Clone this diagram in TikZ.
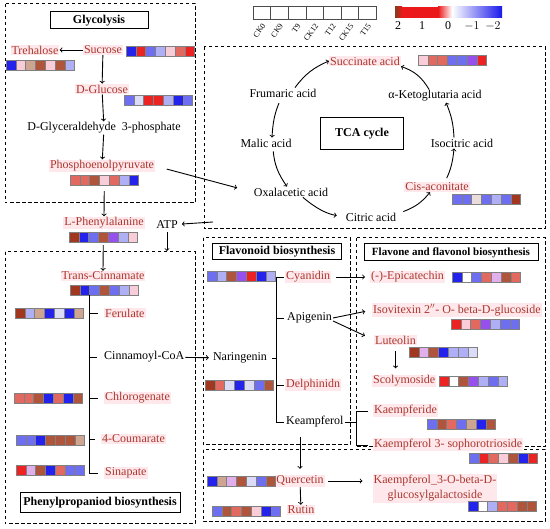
\documentclass[tikz,border=0pt]{standalone}
\usepackage{fontspec}
\setmainfont{Liberation Serif}
\usetikzlibrary{positioning}
\usetikzlibrary{calc}

\definecolor{hitred}{RGB}{170,55,45}
\definecolor{hitbg}{RGB}{255,232,236}
\definecolor{hB}{RGB}{35,35,235}
\definecolor{hb}{RGB}{110,110,240}
\definecolor{hl}{RGB}{175,175,245}
\definecolor{hw}{RGB}{220,220,248}
\definecolor{hp}{RGB}{248,205,215}
\definecolor{hq}{RGB}{235,220,220}
\definecolor{hr}{RGB}{225,105,95}
\definecolor{hR}{RGB}{235,35,35}
\definecolor{hn}{RGB}{175,85,60}
\definecolor{hN}{RGB}{160,55,30}
\definecolor{ht}{RGB}{205,165,145}
\definecolor{hv}{RGB}{150,80,235}
\definecolor{hm}{RGB}{225,175,235}
\definecolor{cbbrown}{RGB}{130,60,30}
\definecolor{cbred}{RGB}{235,25,25}
\definecolor{cbblue}{RGB}{25,25,235}

% one row of seven heat map cells, #1 name, #2 west point, #3 colours
\newcommand{\heatrow}[3]{%
  \foreach \c [count=\i from 0] in {#3}
    \node[cell, fill=\c] (#1\i) at ($(#2)+(\i*9.8+4.9,0)$) {};
}

\begin{document}
\begin{tikzpicture}[x=1pt, y=-1pt]
  \tikzstyle{met}=[inner sep=1pt, font=\fontsize{12}{14}\selectfont]
  \tikzstyle{hit}=[met, text=hitred, fill=hitbg]
  \tikzstyle{title}=[draw, line width=1pt, inner sep=1pt, font=\bfseries\fontsize{12}{14}\selectfont]
  \tikzstyle{region}=[line width=1pt, dash pattern=on 3.5pt off 2.5pt]
  \tikzstyle{connect}=[->, line width=0.9pt]
  \tikzstyle{tree}=[line width=0.9pt]
  \tikzstyle{cell}=[draw=gray, line width=0.4pt, minimum width=9.8pt, minimum height=10pt, inner sep=0pt]
  \tikzstyle{legcell}=[draw=black!70, minimum width=17.6pt, minimum height=13pt, inner sep=0pt]

  \useasboundingbox (0,0) rectangle (550,529);

  % pathway regions
  \draw[region] (5,4) rectangle (195,203);
  \draw[region] (204,47) rectangle (545,229);
  \draw[region] (5,252) rectangle (195,524);
  \draw[region] (203,238) rectangle (350,445);
  \draw[region] (356,238) rectangle (545,447);
  \draw[region] (203,450) rectangle (545,522);

  % legend
  \foreach \lab [count=\i from 0] in {CK0,CK9,T9,CK12,T12,CK15,T15} {
    \node[legcell] (leg\i) at (261.8+\i*17.6, 12.5) {};
    \node[font=\fontsize{8}{10}\selectfont, inner sep=0pt, rotate=55, anchor=east] at ([xshift=2pt, yshift=-5pt]leg\i.south) {\lab};
  }
  \shade[left color=cbbrown, right color=cbred] (395,7) rectangle (402,18);
  \fill[cbred] (402,7) rectangle (438,18);
  \shade[left color=cbred, right color=white] (438,7) rectangle (452,18);
  \shade[left color=white, right color=cbblue] (452,7) rectangle (502,18);
  \foreach \v/\x in {2/398, 1/422, 0/448, {$-1$}/472, {$-2$}/493}
    \node[met] at (\x, 26) {\v};

  % glycolysis
  \node[title, minimum width=98pt, minimum height=17pt] (glyco) at (99,20.5) {Glycolysis};
  \node[hit] (tre) at (35,50) {Trehalose};
  \node[hit] (suc) at (103,50) {Sucrose};
  \node[hit] (glu) at (102,89) {D-Glucose};
  \node[met] (gap) at (104,128) {D-Glyceraldehyde\ \ 3-phosphate};
  \node[hit] (pep) at (102,166) {Phosphoenolpyruvate};
  \heatrow{sucb}{126,51}{hB,hR,hb,hl,hp,hr,hR}
  \heatrow{treb}{6,65}{hB,hp,ht,hn,hp,hn,hl}
  \heatrow{glub}{124,100}{hb,hw,hR,hR,hl,hB,hb}
  \heatrow{pepb}{70,180}{hr,hr,hn,hp,hr,hl,hB}

  % phenylpropanoid
  \node[hit] (lphe) at (104,223) {L-Phenylalanine};
  \heatrow{lpheb}{69,237}{hN,hB,hb,hn,hv,hl,hp}
  \node[met] (atp) at (167,225) {ATP};
  \node[hit] (tcin) at (103,276) {Trans-Cinnamate};
  \heatrow{tcinb}{70,290}{hN,hB,hb,hn,hb,hl,hp}
  \node[hit, anchor=west] (feru) at (104,313) {Ferulate};
  \heatrow{ferub}{15,313}{hN,hl,ht,hB,hw,hB,ht}
  \node[met, anchor=west] (cinn) at (103,357) {Cinnamoyl-CoA};
  \node[hit, anchor=west] (chlo) at (104,398) {Chlorogenate};
  \heatrow{chlob}{14,398}{hr,hr,hn,hB,hr,hB,hn}
  \node[hit, anchor=west] (coum) at (101,439) {4-Coumarate};
  \heatrow{coumb}{16,440}{hb,hb,hB,hn,hn,hn,ht}
  \node[hit, anchor=west] (sina) at (104,473) {Sinapate};
  \heatrow{sinab}{16,470}{hR,hm,hn,hB,hr,hb,hb}
  \node[title, minimum width=160pt, minimum height=20pt] (phen) at (100,503) {Phenylpropaniod biosynthesis};

  % TCA cycle
  \node[hit] (succ) at (365,61) {Succinate acid};
  \heatrow{succb}{418,60}{hp,hr,hr,hb,hb,hv,hR}
  \node[met] (frum) at (283,93) {Frumaric acid};
  \node[met] (keto) at (435,96) {α-Ketoglutaria acid};
  \node[met] (malic) at (266,143) {Malic acid};
  \node[title, minimum width=83pt, minimum height=32pt] (tca) at (362,134) {TCA cycle};
  \node[met] (isoc) at (462,143) {Isocitric acid};
  \node[met] (oxal) at (291,192) {Oxalacetic acid};
  \node[hit] (cis) at (437,187) {Cis-aconitate};
  \heatrow{cisb}{452,199}{hb,hb,hq,hb,hl,hb,hN}
  \node[met] (citr) at (371,217) {Citric acid};

  % flavonoid
  \node[title, minimum width=129pt, minimum height=16pt] (flav) at (277,252) {Flavonoid biosynthesis};
  \heatrow{cyanb}{207,276}{hb,hl,hn,hv,hR,hB,hl}
  \node[hit, anchor=west] (cyan) at (285,277) {Cyanidin};
  \node[met, anchor=west] (api) at (286,318) {Apigenin};
  \node[met] (nar) at (240,358) {Naringenin};
  \heatrow{delpb}{205,385}{hN,hr,hw,hB,hw,hb,hn}
  \node[hit, anchor=west] (delp) at (285,385) {Delphinidn};
  \node[met, anchor=west] (keam) at (285,422) {Keampferol};

  % flavone and flavonol
  \node[title, font=\bfseries\fontsize{11}{13}\selectfont, minimum width=174pt, minimum height=17pt] (flvn) at (451,252.5) {Flavone and flavonol biosynthesis};
  \node[hit, anchor=west] (epi) at (370,277) {(-)-Epicatechin};
  \heatrow{epib}{452,277}{hB,white,hb,hr,hm,hn,hr}
  \node[hit, anchor=west] (isov) at (372,310) {Isovitexin 2$''$- O- beta-D-glucoside};
  \heatrow{isovb}{451,324}{hR,hp,hr,hv,hl,hb,hb}
  \node[hit, anchor=west] (lut) at (374,340) {Luteolin};
  \heatrow{lutb}{409,352}{hN,hm,hn,hB,hl,hl,hw}
  \node[hit, anchor=west] (scol) at (372,381) {Scolymoside};
  \heatrow{scolb}{439,381}{hR,white,hn,hv,hl,hb,hl}
  \node[hit, anchor=west] (kmpf) at (373,411) {Kaempferide};
  \heatrow{kmpfb}{427,424}{hb,hn,hr,hb,ht,hB,hn}
  \node[hit, anchor=west] (ksop) at (373,445) {Kaempferol 3- sophorotrioside};
  \heatrow{ksopb}{469,458}{hb,hR,hr,hp,hn,hB,hR}

  % quercetin
  \node[hit] (quer) at (300,481) {Quercetin};
  \heatrow{querb}{207,481}{hB,ht,hm,hn,hw,hb,hn}
  \node[hit, align=center, font=\fontsize{12}{15}\selectfont] (kglc) at (435,488.5) {Kaempferol\_3-O-beta-D-\\glucosylgalactoside};
  \heatrow{kglcb}{468,506}{hB,white,hl,hr,hr,hn,hn}
  \node[hit] (rutin) at (301,510) {Rutin};
  \heatrow{rutinb}{212,511}{hb,hn,hr,hn,hp,hB,hb}

  % glycolysis arrows
  \path (suc) edge [connect] (tre)
        (suc) edge [connect] (glu)
        (glu) edge [connect] (gap)
        (gap) edge [connect] (pep);
  \draw[connect, shorten <=6pt] (pepb3.south) -- (lphe.north);
  \draw[connect, shorten <=3pt] (lpheb3.south) -- (tcin.north);
  \draw[connect, shorten <=12pt, shorten >=16pt] (pep.east) -- (oxal.west);

  % ATP
  \coordinate (atpsrc) at (213,222);
  \coordinate (atpdst) at (167,251);
  \draw[connect, shorten >=3pt] (atpsrc) -- (atp);
  \draw[connect, shorten <=2pt] (atp) -- (atpdst);

  % TCA arrows
  \path ([xshift=12pt]frum.north) edge [connect, bend left=15] (succ.west)
        ([xshift=-6pt]keto.north) edge [connect, bend right=20] (succ.south east)
        ([xshift=-8pt]isoc.north) edge [connect, bend right=10] ([xshift=11pt]keto.south)
        ([xshift=8pt]cis.north) edge [connect, bend right=10, shorten <=4pt] ([xshift=-8pt]isoc.south)
        ([xshift=6pt]citr.north east) edge [connect, bend right=15] ([xshift=-7pt]cis.south)
        ([xshift=12pt]oxal.south) edge [connect, bend right=15, shorten >=8pt] (citr.west)
        ([xshift=7pt]malic.south) edge [connect, bend right=15, shorten <=3pt] ([xshift=-4pt]oxal.north)
        ([xshift=-2pt]frum.south) edge [connect, bend right=10, shorten <=5pt] ([xshift=6pt]malic.north);

  % phenylpropanoid tree
  \draw[tree] (tcinb1.south east) |- ([xshift=-6pt]sina.west);
  \foreach \n in {feru, cinn, chlo, coum}
    \draw[tree] (\n.west -| tcinb1.south east) -- ([xshift=-6pt]\n.west);
  \draw[connect, shorten >=3pt] (cinn) -- (nar);

  % flavonoid tree
  \coordinate (fspine) at ([xshift=-9pt]keam.west);
  \draw[tree] ([xshift=-1pt]cyan.west) -| (fspine) -- ([xshift=-1pt]keam.west);
  \draw[tree] (api.west -| fspine) -- ([xshift=-2pt]api.west);
  \draw[tree] (delp.west -| fspine) -- ([xshift=-1pt]delp.west);
  \draw[tree, shorten <=4pt] (nar.east) -- (nar.east -| fspine);
  \coordinate (kspine) at ([xshift=-17pt]ksop.west);
  \draw[tree] ([xshift=-5pt]kmpf.west) -| (kspine) -- ([xshift=-5pt]ksop.west);
  \draw[tree] (keam.east) -- (keam.east -| kspine);

  % flavone arrows
  \draw[connect, shorten <=5pt, shorten >=5pt] (cyan.east) -- (epi.west);
  \draw[connect, shorten >=7pt] (api.east) -- (isov.west);
  \draw[connect, shorten >=10pt] ([yshift=-3pt]api.east) -- (lut.west);
  \draw[connect, shorten <=6pt, shorten >=6pt] (lut.south) -- (lut.south |- scol.north);

  % quercetin arrows
  \draw[connect, shorten <=8pt, shorten >=6pt] (keam.south -| quer.north) -- (quer.north);
  \draw[connect, shorten <=3pt, shorten >=10pt] (quer.east) -- (quer.east -| kglc.west);
  \draw[connect] (quer) -- (rutin);
\end{tikzpicture}
\end{document}
